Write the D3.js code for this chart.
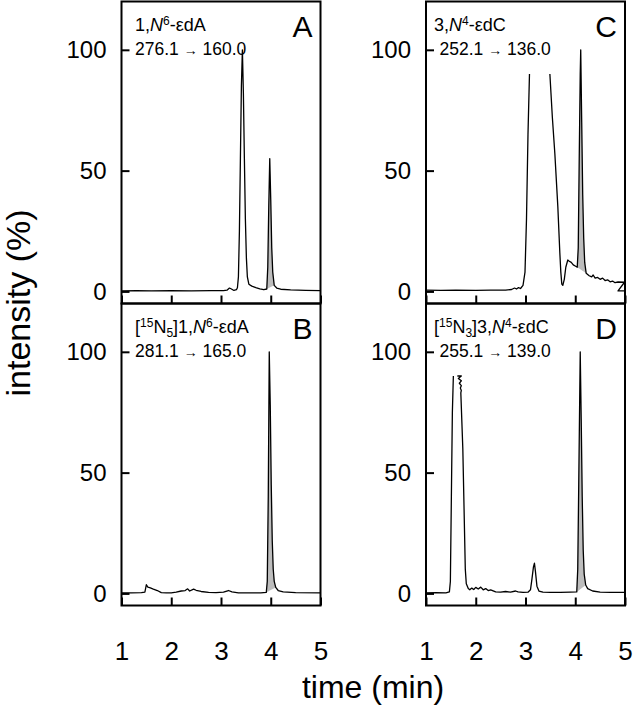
<!DOCTYPE html>
<html>
<head>
<meta charset="utf-8">
<script src="https://cdn.jsdelivr.net/npm/d3@7"></script>
<style>
body { margin: 0; background: #fff; }
svg { font-family: "Liberation Sans", Arial, Helvetica, sans-serif; }
.frame { fill: none; stroke: #000; stroke-width: 2; }
.trace { fill: none; stroke: #000; stroke-width: 1.3; stroke-linejoin: round; }
.peak { fill: #bdbdbd; stroke: none; }
.tick line { stroke: #000; stroke-width: 2; }
</style>
</head>
<body>
<svg width="633" height="706"></svg>
<script>
// axis ticks
var timeTicks = [1, 2, 3, 4, 5];
var intensityTicks = [0, 50, 100];

// chromatograms, [time (min), intensity (%)]; null = trace cut off
var traceA = [[1.0,0.2],[1.3,0.3],[1.6,0.2],[2.0,0.3],[2.4,0.2],[2.8,0.3],[3.05,0.3],[3.12,0.5],[3.17,1.4],[3.21,1.0],[3.26,0.4],[3.31,0.7],
  [3.33,1.5],[3.35,6],[3.37,25],[3.39,55],[3.41,85],[3.43,100],[3.45,82],[3.47,55],[3.49,30],[3.51,14],[3.53,6],[3.56,3],
  [3.62,2.2],[3.7,1.6],[3.78,1.1],[3.86,0.7],[3.92,1.0],[3.94,10],[3.96,35],[3.98,55],[4.0,38],[4.02,18],[4.04,8],[4.07,2.5],
  [4.12,1.4],[4.2,0.9],[4.4,0.6],[4.7,0.4],[5.0,0.3]];

var traceB = [[1.0,0.2],[1.2,0.2],[1.4,0.3],[1.47,0.5],[1.5,3.6],[1.53,2.6],[1.58,2.3],[1.64,1.8],[1.72,1.2],[1.8,0.3],[1.9,0.2],[2.0,0.2],
  [2.1,0.5],[2.2,1.0],[2.28,1.2],[2.33,1.9],[2.37,1.0],[2.45,1.8],[2.5,1.3],[2.6,0.8],[2.75,0.4],[2.9,0.3],[3.05,0.5],[3.15,1.2],
  [3.22,0.6],[3.35,0.2],[3.6,0.2],[3.8,0.2],[3.91,0.4],[3.93,5],[3.95,40],[3.97,100],[3.99,78],[4.01,45],[4.03,22],[4.05,10],
  [4.07,5],[4.1,2.5],[4.15,1.2],[4.25,0.6],[4.5,0.3],[5.0,0.2]];

var traceC = [[1.0,0.5],[1.3,0.4],[1.6,0.5],[2.0,0.4],[2.3,0.5],[2.6,0.5],[2.72,0.8],[2.78,1.4],[2.82,1.0],[2.86,1.6],[2.9,1.2],[2.95,2.5],
  [2.99,8],[3.02,30],[3.05,65],[3.08,90],[3.08,null],[3.49,90],[3.54,72],[3.59,57],[3.65,35],[3.69,16],[3.71,8],[3.73,3],[3.75,2.5],
  [3.78,5],[3.81,10],[3.85,13],[3.88,12.5],[3.92,12],[3.96,11],[4.0,10.5],[4.04,10],[4.06,18],[4.08,55],[4.1,90],[4.11,100],
  [4.13,70],[4.15,40],[4.17,22],[4.19,12],[4.22,7.5],[4.28,6.5],[4.33,6],[4.36,6.8],[4.4,5.5],[4.45,5.8],[4.5,5],[4.55,5.5],
  [4.6,4.5],[4.65,4.8],[4.7,4],[4.75,4.3],[4.8,3.6],[4.86,3.9],[4.99,3.8],[4.86,0.2],[4.99,0.2]];

var traceD = [[1.0,0.2],[1.2,0.3],[1.4,0.2],[1.47,0.6],[1.49,5],[1.51,40],[1.53,75],[1.55,90],[1.55,null],[1.63,90],[1.71,90],[1.65,89],
  [1.71,88],[1.67,87],[1.71,86],[1.69,85],[1.71,84],[1.70,83],[1.74,60],[1.77,30],[1.79,10],[1.81,4],[1.85,2],[1.88,1.5],[1.92,2.2],
  [1.96,1.6],[2.0,2.5],[2.05,1.8],[2.1,2.6],[2.15,1.5],[2.2,2.0],[2.25,1.2],[2.3,1.5],[2.4,0.6],[2.5,0.5],[2.6,0.8],[2.7,0.5],
  [2.8,1.0],[2.85,0.6],[2.95,0.4],[3.05,0.5],[3.1,1.5],[3.13,6],[3.16,11],[3.18,12.5],[3.2,9],[3.23,3],[3.27,1],[3.35,0.5],
  [3.5,0.4],[3.7,0.4],[3.9,0.5],[4.03,0.6],[4.05,10],[4.07,45],[4.1,100],[4.12,72],[4.14,40],[4.16,18],[4.18,8],[4.21,3.5],
  [4.25,2],[4.35,1],[4.5,0.5],[4.7,0.4],[5.0,0.4]];

// integrated peak windows (min)
var shadeA = [3.92, 4.07];
var shadeB = [3.91, 4.10];
var shadeC = [4.04, 4.22];
var shadeD = [4.03, 4.21];

// labels
var compoundA = [{s:"1,"},{s:"N",it:1},{s:"6",sup:1},{s:"-\u03b5dA"}];
var compoundB = [{s:"["},{s:"15",sup:1},{s:"N"},{s:"5",sub:1},{s:"]1,"},{s:"N",it:1},{s:"6",sup:1},{s:"-\u03b5dA"}];
var compoundC = [{s:"3,"},{s:"N",it:1},{s:"4",sup:1},{s:"-\u03b5dC"}];
var compoundD = [{s:"["},{s:"15",sup:1},{s:"N"},{s:"3",sub:1},{s:"]3,"},{s:"N",it:1},{s:"4",sup:1},{s:"-\u03b5dC"}];
var transitionA = ["276.1", "160.0"];
var transitionB = ["281.1", "165.0"];
var transitionC = ["252.1", "136.0"];
var transitionD = ["255.1", "139.0"];

var panels = [
  {letter:"A", col:0, row:0, trace:traceA, shade:shadeA, compound:compoundA, mrm:transitionA},
  {letter:"B", col:0, row:1, trace:traceB, shade:shadeB, compound:compoundB, mrm:transitionB},
  {letter:"C", col:1, row:0, trace:traceC, shade:shadeC, compound:compoundC, mrm:transitionC},
  {letter:"D", col:1, row:1, trace:traceD, shade:shadeD, compound:compoundD, mrm:transitionD}
];

var svg = d3.select("svg");
var colX = [121.5, 426], rowY = [1.5, 303.5];
var panelW = 199, panelH = 302;

function richText(sel, parts) {
  var shift = 0;
  parts.forEach(function(p) {
    var target = p.sup ? -6 : (p.sub ? 4 : 0);
    var ts = sel.append("tspan").text(p.s).attr("dy", target - shift);
    shift = target;
    if (p.sup || p.sub) ts.attr("font-size", 12);
    if (p.it) ts.attr("font-style", "italic");
  });
}

panels.forEach(function(p) {
  var x0 = colX[p.col], y0 = rowY[p.row];
  var x = d3.scaleLinear().domain([1, 5]).range([x0, x0 + panelW]);
  var y = d3.scaleLinear().domain([-5, 120]).range([y0 + panelH, y0]);
  var g = svg.append("g");

  // grey integrated peak: between trace and straight baseline
  var pts = p.trace.filter(function(d) { return d[1] != null && d[0] >= p.shade[0] && d[0] <= p.shade[1]; });
  var a = pts[0], b = pts[pts.length - 1];
  var area = d3.area()
      .x(function(d) { return x(d[0]); })
      .y0(function(d) { return y(a[1] + (b[1] - a[1]) * (d[0] - a[0]) / (b[0] - a[0])); })
      .y1(function(d) { return y(d[1]); });
  g.append("path").attr("class", "peak").attr("d", area(pts));

  var line = d3.line()
      .defined(function(d) { return d[1] != null; })
      .x(function(d) { return x(d[0]); })
      .y(function(d) { return y(d[1]); });
  g.append("path").attr("class", "trace").attr("d", line(p.trace));

  var xAxis = d3.axisBottom(x).tickValues(timeTicks).tickFormat(d3.format("d"))
      .tickSizeInner(-8).tickSizeOuter(0).tickPadding(36);
  if (p.row == 0) xAxis.tickFormat("");
  g.append("g")
      .attr("transform", "translate(0," + (y0 + panelH) + ")")
      .call(xAxis)
      .call(function(s) { s.select(".domain").remove(); })
      .attr("font-size", 26).attr("font-family", null);

  g.append("g")
      .attr("transform", "translate(" + x0 + ",0)")
      .call(d3.axisLeft(y).tickValues(intensityTicks).tickSizeInner(-8).tickSizeOuter(0).tickPadding(15))
      .call(function(s) { s.select(".domain").remove(); })
      .attr("font-size", 24).attr("font-family", null);

  g.append("rect").attr("class", "frame")
      .attr("x", x0).attr("y", y0).attr("width", panelW).attr("height", panelH);

  var tx = x0 + (p.col == 0 ? 13.5 : 8);
  richText(g.append("text").attr("x", tx).attr("y", y0 + 29).attr("font-size", 18), p.compound);
  var t2 = g.append("text").attr("x", x0 + 13.5).attr("y", y0 + 53.5).attr("font-size", 17.5);
  t2.append("tspan").text(p.mrm[0] + " ");
  t2.append("tspan").attr("font-size", 14).text("\u2192");
  t2.append("tspan").text(" " + p.mrm[1]);

  g.append("text").attr("x", x0 + panelW - 8).attr("y", y0 + 35)
      .attr("text-anchor", "end").attr("font-size", 30).text(p.letter);
});

svg.append("text")
    .attr("transform", "translate(30,303) rotate(-90)")
    .attr("text-anchor", "middle").attr("font-size", 34)
    .text("intensity (%)");

svg.append("text")
    .attr("x", 373).attr("y", 698)
    .attr("text-anchor", "middle").attr("font-size", 32)
    .text("time (min)");
</script>
</body>
</html>
